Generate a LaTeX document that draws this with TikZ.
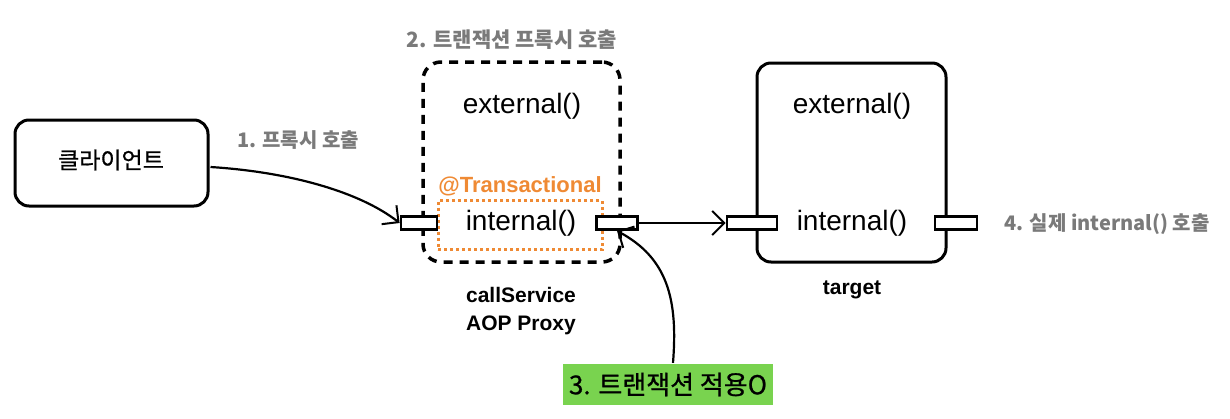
\documentclass[tikz,border=0pt]{standalone}
\usepackage{fontspec}
\setmainfont{Liberation Sans}
\newfontfamily\kr{Noto Sans CJK KR}
\newfontfamily\krm[FakeBold=0.8]{Noto Sans CJK KR}
\usetikzlibrary{arrows.meta}
\definecolor{lblgray}{HTML}{7A7A7A}
\definecolor{txorange}{HTML}{EF8A34}
\definecolor{hlgreen}{HTML}{79D34F}
\tikzset{
  box/.style={draw, line width=3pt, rounded corners=14pt},
  dbox/.style={draw, line width=3.5pt, dash pattern=on 9pt off 7pt, rounded corners=18pt},
  port/.style={draw, line width=2.8pt, fill=white, minimum width=36pt, minimum height=13pt, inner sep=0pt},
  meth/.style={font=\fontsize{28}{30}\selectfont, inner sep=0pt},
  glabel/.style={font=\kr\bfseries\fontsize{20}{22}\selectfont, text=lblgray, inner sep=0pt},
  blabel/.style={font=\bfseries\fontsize{21}{28}\selectfont, align=center, inner sep=0pt},
  conn/.style={line width=2.2pt, -{Straight Barb[length=12pt,width=24pt,line width=2pt]}},
}
\begin{document}
\begin{tikzpicture}[x=1pt,y=-1pt]
\useasboundingbox (0,0) rectangle (1230,418);
% client
\node[box, minimum width=193pt, minimum height=86pt, inner sep=0pt] (client) at (111.5,163) {};
\node[font=\krm\fontsize{23}{24}\selectfont, inner sep=0pt] (clienttxt) at (111,160) {클라이언트};
\node[glabel] (l1) at (298,140) {1. 프록시 호출};
% proxy
\node[dbox, minimum width=197pt, minimum height=200pt, inner sep=0pt] (proxy) at (521.5,162) {};
\node[glabel, font=\kr\bfseries\fontsize{21}{22}\selectfont] (l2) at (512,40) {2. 트랜잭션 프록시 호출};
\node[meth] (pext) at (522,106) {external()};
\node[font=\bfseries\fontsize{22}{24}\selectfont, text=txorange, inner sep=0pt] (tx) at (520,186) {@Transactional};
\node[draw=txorange, line width=3pt, dash pattern=on 3pt off 3pt, minimum width=164pt, minimum height=49pt, inner sep=0pt] (txbox) at (520,225) {};
\node[meth] (pint) at (521,223) {internal()};
\node[port] (pinL) at (419,223) {};
\node[port, minimum width=41pt] (pinR) at (617,223) {};
\node[blabel] (pname) at (521,311) {callService\\AOP Proxy};
% target
\node[box, minimum width=189pt, minimum height=199pt, inner sep=0pt] (target) at (851.5,162.5) {};
\node[meth] (text) at (852,106) {external()};
\node[meth] (tint) at (852,223) {internal()};
\node[port, minimum width=50pt] (tinL) at (752,223) {};
\node[port, minimum width=42pt] (tinR) at (956,223) {};
\node[blabel] (tname) at (852,290) {target};
\node[glabel] (l4) at (1107,224) {4. 실제 internal() 호출};
% green
\node[fill=hlgreen, minimum width=210pt, minimum height=41pt, inner sep=0pt, font=\krm\fontsize{26}{28}\selectfont] (l3) at (668,384.5) {3. 트랜잭션 적용O};
% connectors
\draw[conn] (client.east) ++(1,4) coordinate (c1s) .. controls (290,172) and (360,192) .. (pinL.west);
\draw[conn] (pinR.east) -- (tinL.west);
\draw[conn] (l3.north) ++(5,-1) coordinate (c3s) .. controls (678,300) and (668,258) .. (pinR.south);
\end{tikzpicture}
\end{document}
